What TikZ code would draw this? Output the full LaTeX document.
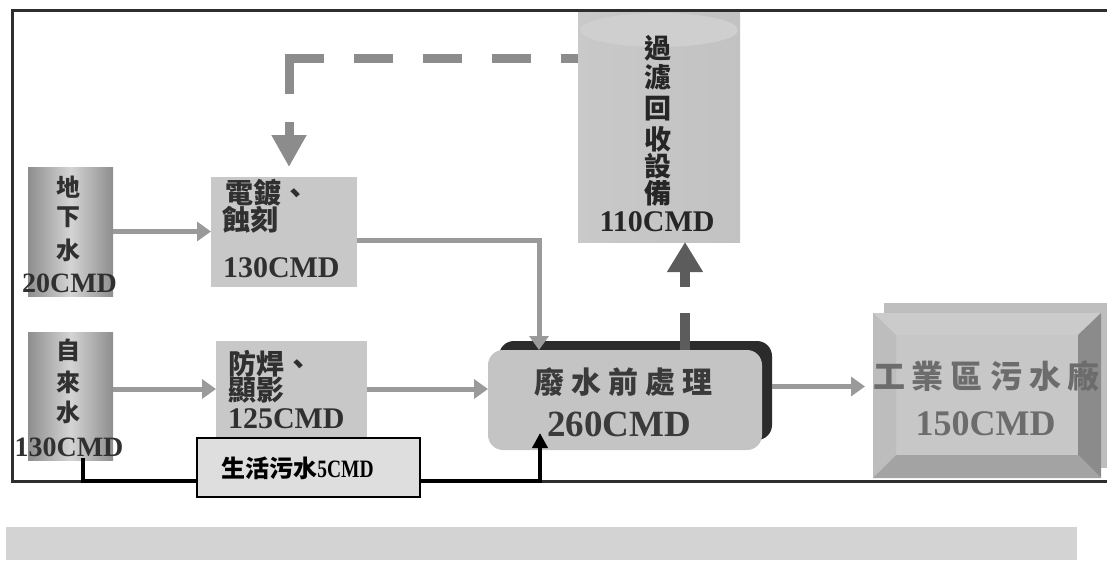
\documentclass[tikz,border=0pt]{standalone}
\usepackage{fontspec}
\setmainfont{Liberation Serif}
\newfontfamily\cjk{Noto Sans CJK TC}
\usetikzlibrary{arrows.meta,calc}
\definecolor{frm}{HTML}{2E2E2E}
\definecolor{barc}{HTML}{D3D3D3}
\definecolor{srcE}{HTML}{8E8E8E}
\definecolor{srcM}{HTML}{D4D4D4}
\definecolor{procF}{HTML}{C8C8C8}
\definecolor{domF}{HTML}{DEDEDE}
\definecolor{cylL}{HTML}{C9C9C9}
\definecolor{cylR}{HTML}{C2C2C2}
\definecolor{cylT}{HTML}{CFCFCF}
\definecolor{shd}{HTML}{2B2B2B}
\definecolor{preF}{HTML}{C4C4C4}
\definecolor{indBk}{HTML}{BEBEBE}
\definecolor{indF}{HTML}{C7C7C7}
\definecolor{indT}{HTML}{CBCBCB}
\definecolor{indL}{HTML}{BDBDBD}
\definecolor{indR}{HTML}{8B8B8B}
\definecolor{indB}{HTML}{A3A3A3}
\definecolor{arrg}{HTML}{9A9A9A}
\definecolor{fbc}{HTML}{8C8C8C}
\definecolor{upc}{HTML}{5C5C5C}
\definecolor{txtD}{HTML}{303030}
\definecolor{txtP}{HTML}{3A3A3A}
\definecolor{txtI}{HTML}{6C6C6C}
\begin{document}
\begin{tikzpicture}[x=1pt,y=-1pt,
  every node/.style={inner sep=0pt,outer sep=0pt},
  srcbox/.style={rectangle,minimum width=85pt,minimum height=128pt,left color=srcE,right color=srcE,middle color=srcM},
  procbox/.style={rectangle,fill=procF},
  garrow/.style={draw=arrg,line width=5pt,-{Triangle[length=14pt,width=19pt]}},
  fbdash/.style={draw=fbc,line width=9pt},
  updash/.style={draw=upc,line width=10pt,dash pattern=on 37pt off 26pt,-{Triangle[length=30pt,width=34pt]}},
  blkline/.style={draw=black,line width=4pt},
  cjkS/.style={font=\cjk\bfseries\fontsize{24pt}{24pt}\selectfont,text=txtD},
  cjkM/.style={font=\cjk\bfseries\fontsize{28pt}{28pt}\selectfont,text=txtD},
  numS/.style={font=\bfseries\fontsize{28pt}{28pt}\selectfont,text=txtD},
  numM/.style={font=\bfseries\fontsize{30pt}{30pt}\selectfont,text=txtD}]
\useasboundingbox (0,0) rectangle (1107,560);
% frame and bottom bar
\coordinate (FTL) at (12,10);
\coordinate (FBL) at (12,481);
\draw[frm,line width=3pt] (1107,10) -- (FTL) -- (FBL) -- (1107,481);
\fill[barc] (6,527) rectangle (1077,560);
% boxes
\node[srcbox,minimum height=129pt] (gw) at (70.5,231.5) {};
\node[srcbox] (tap) at (70.5,396) {};
\node[procbox,minimum width=146pt,minimum height=110pt] (plat) at (284,232) {};
\node[procbox,minimum width=151pt,minimum height=96pt] (sold) at (291.5,389) {};
\node[rectangle,minimum width=162pt,minimum height=230pt,left color=cylL,right color=cylR] (cyl) at (659,127) {};
\fill[cylT] ($(cyl.north)+(0,18)$) ellipse [x radius=79pt,y radius=17pt];
\node[rectangle,rounded corners=15pt,fill=shd,minimum width=273pt,minimum height=99pt] (preS) at (635.5,390.5) {};
\node[rectangle,rounded corners=15pt,fill=preF,minimum width=274pt,minimum height=100pt] (pre) at (625,400) {};
\fill[indBk] (884,303) rectangle (1107,468);
\node[rectangle,fill=indF,minimum width=228pt,minimum height=165pt] (ind) at (987,395.5) {};
\fill[indT] (ind.north west) -- (ind.north east) -- ($(ind.north east)+(-23,22)$) -- ($(ind.north west)+(23,22)$) -- cycle;
\fill[indL] (ind.north west) -- ($(ind.north west)+(23,22)$) -- ($(ind.south west)+(23,-23)$) -- (ind.south west) -- cycle;
\fill[indR] (ind.north east) -- (ind.south east) -- ($(ind.south east)+(-23,-23)$) -- ($(ind.north east)+(-23,22)$) -- cycle;
\fill[indB] (ind.south west) -- (ind.south east) -- ($(ind.south east)+(-23,-23)$) -- ($(ind.south west)+(23,-23)$) -- cycle;
% connectors
\draw[garrow] (gw.east) -- (gw.east -| plat.west);
\draw[garrow] (tap.east |- sold.west) -- (sold.west);
\draw[garrow] (sold.east) -- (sold.east -| pre.west);
\draw[garrow] ($(plat.east)+(0,8)$) -| ($(pre.north west)+(51,0)$);
\coordinate (pout) at ($(preS.east)+(0,-4)$);
\draw[garrow,shorten >=8pt] (pout) -- (pout -| ind.west);
\coordinate (upb) at ($(pre.north west)+(197,0)$);
\draw[updash] (upb) -- (upb |- cyl.south);
\coordinate (fbk) at ($(plat.north)+(5,-119)$);
\draw[fbdash,dash pattern=on 39pt off 30pt] ($(fbk)+(-4.5,0)$) -- (fbk -| cyl.west);
\draw[fbdash,dash pattern=on 36pt off 28pt,-{Triangle[length=32pt,width=33pt]},shorten >=10pt] (fbk) -- (fbk |- plat.north);
% domestic sewage
\node[draw=black,line width=1.5pt,fill=domF,minimum width=223pt,minimum height=59pt] (dom) at (308.5,467.5) {};
\draw[blkline] ($(tap.south)+(12.5,-2)$) |- (dom.west |- FBL);
\draw[blkline,-{Triangle[length=15pt,width=15pt]}] (dom.east |- FBL) -| ($(pre.south west)+(52,-17)$);
% texts
\foreach \c/\y [count=\i] in {地/187,下/217,水/250} \node[cjkS] (gwc\i) at (68,\y) {\c};
\node[numS] (gwn) at (69.5,283) {20CMD};
\foreach \c/\y [count=\i] in {自/350,來/382,水/412} \node[cjkS] (tpc\i) at (68,\y) {\c};
\node[numS] (tpn) at (69,447) {130CMD};
\node[cjkM,anchor=west] (pl1) at (225,193) {電鍍、};
\node[cjkM,anchor=west] (pl2) at (222,220) {蝕刻};
\node[numM,anchor=west] (pl3) at (223,268) {130CMD};
\node[cjkM,anchor=west] (so1) at (228,364) {防焊、};
\node[cjkM,anchor=west] (so2) at (228,390) {顯影};
\node[numM,anchor=west] (so3) at (228,419) {125CMD};
\foreach \c/\y [count=\i] in {過/48,濾/77,回/109,收/139,設/166,備/193} \node[cjkM,font=\cjk\bfseries\fontsize{27pt}{27pt}\selectfont,text=black!85] (cyc\i) at (658,\y) {\c};
\node[numM,text=black!85] (cyn) at (657,222) {110CMD};
\node[font=\cjk\bfseries\fontsize{30pt}{30pt}\selectfont,text=txtP] (pret) at (623.5,382) {廢\hspace{7pt}水\hspace{7pt}前\hspace{7pt}處\hspace{7pt}理};
\node[font=\bfseries\fontsize{37pt}{37pt}\selectfont,text=txtP] (pren) at (619,424) {260CMD};
\node[font=\cjk\bfseries\fontsize{32pt}{32pt}\selectfont,text=txtI] (indt) at (986.5,376) {工\hspace{7pt}業\hspace{7pt}區\hspace{7pt}污\hspace{7pt}水\hspace{7pt}廠};
\node[font=\bfseries\fontsize{36pt}{36pt}\selectfont,text=txtI] (indn) at (985.5,424) {150CMD};
\node[text=black] (domt) at (297.5,468) {{\cjk\bfseries\fontsize{24pt}{24pt}\selectfont 生活污水}\scalebox{0.78}[1]{\bfseries\fontsize{25pt}{25pt}\selectfont 5CMD}};
\end{tikzpicture}
\end{document}
